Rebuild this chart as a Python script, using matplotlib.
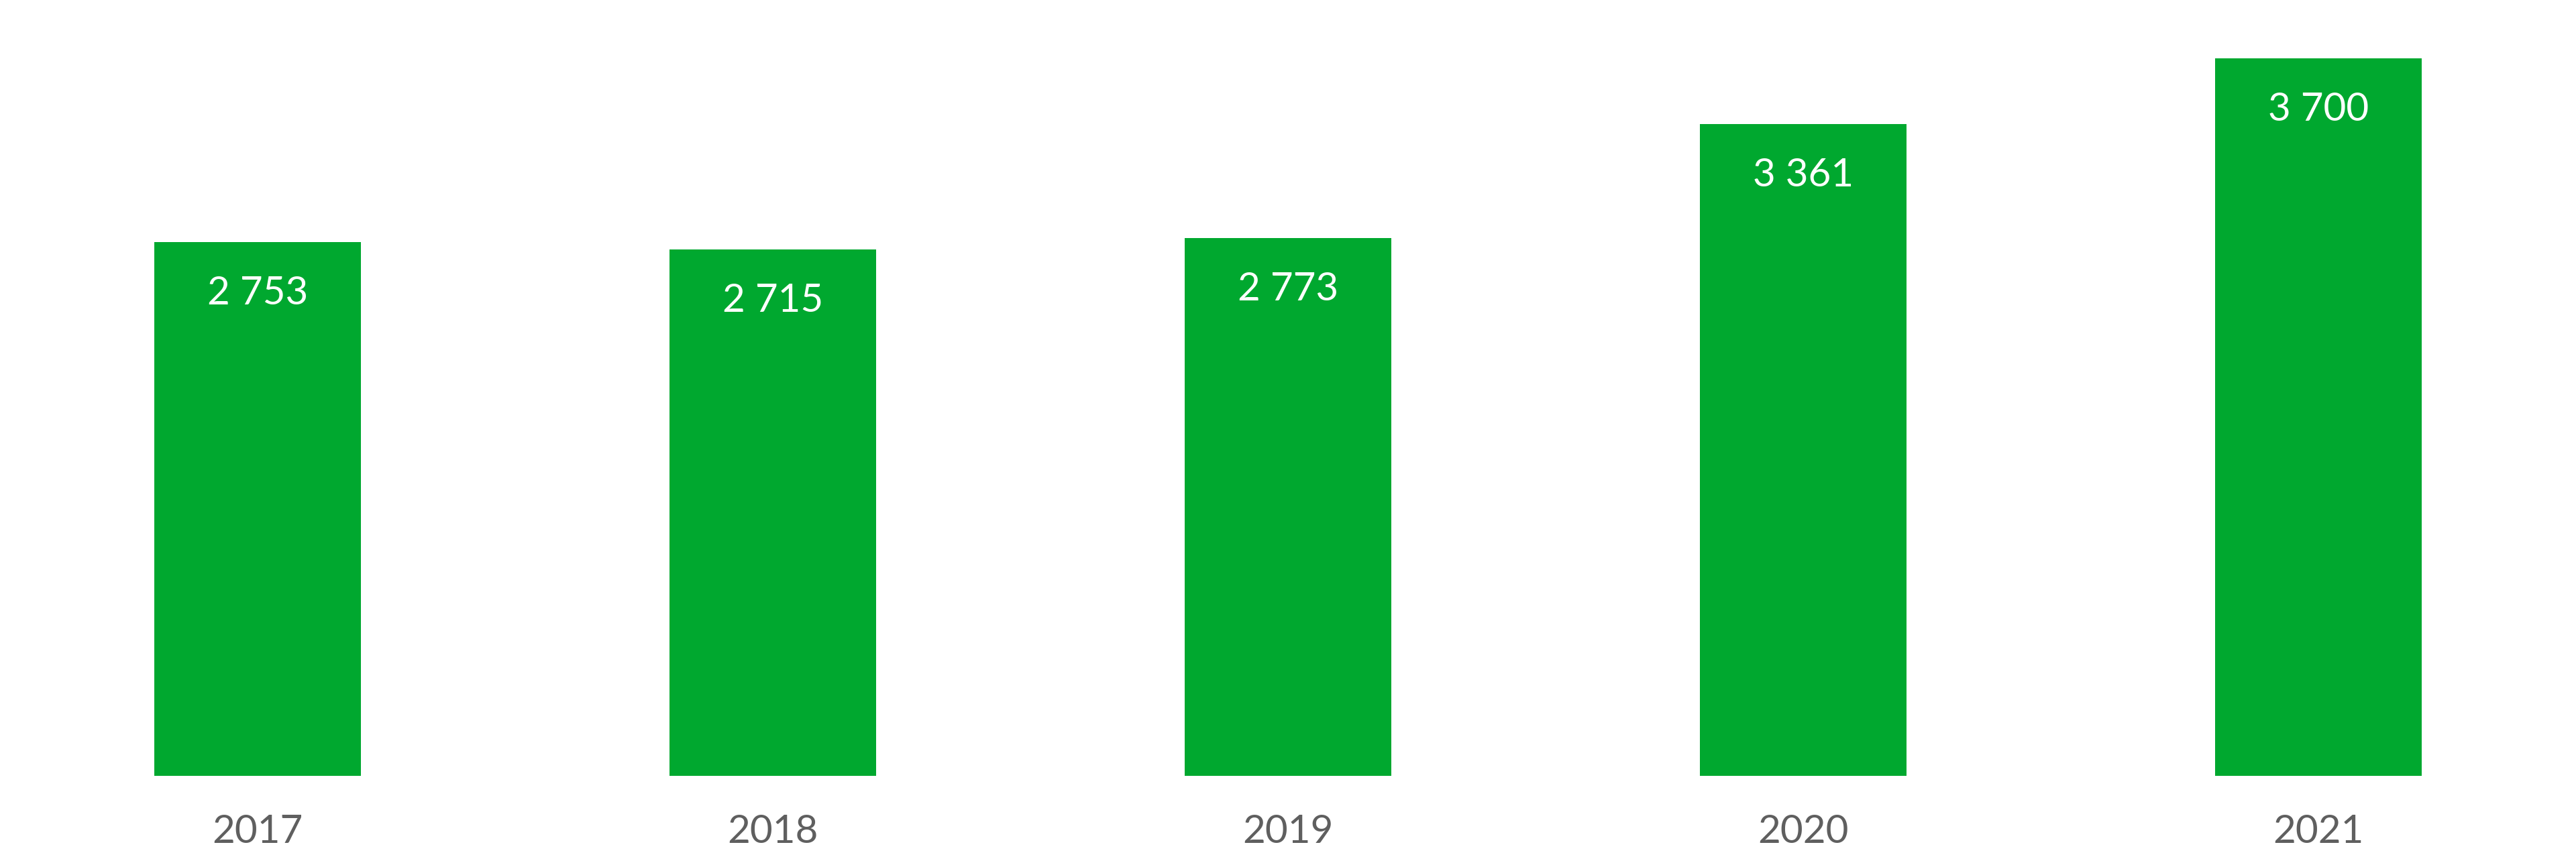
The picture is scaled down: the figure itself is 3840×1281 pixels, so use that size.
import numpy as np
import matplotlib.pyplot as plt

years = ["2017", "2018", "2019", "2020", "2021"]
values = [2753, 2715, 2773, 3361, 3700]
value_labels = ["2 753", "2 715", "2 773", "3 361", "3 700"]

green = "#00a82f"
grey = "#5f5f5f"
fsz = 42

plt.rcParams['font.family'] = ['Lato', 'DejaVu Sans']

fig = plt.figure(figsize=(38.4, 12.81), dpi=100)
ax = fig.add_axes([0, 0.0968, 1, 0.9032])

x = np.arange(len(years))
bars = ax.bar(x, values, width=0.4, color=green)

for xi, v, lab in zip(x, values, value_labels):
    ax.annotate(lab, (xi, v), xytext=(0, -55), textcoords='offset points',
                ha='center', va='center', color='white', fontsize=fsz)

ax.set_xlim(-0.5, len(years) - 0.5)
ax.set_ylim(0, 4000)
ax.set_xticks(x)
ax.set_xticklabels(years, fontsize=fsz, color=grey)
ax.tick_params(axis='x', length=0, pad=41)
ax.set_yticks([])
for s in ax.spines.values():
    s.set_visible(False)

plt.savefig('out.png', dpi=100)
